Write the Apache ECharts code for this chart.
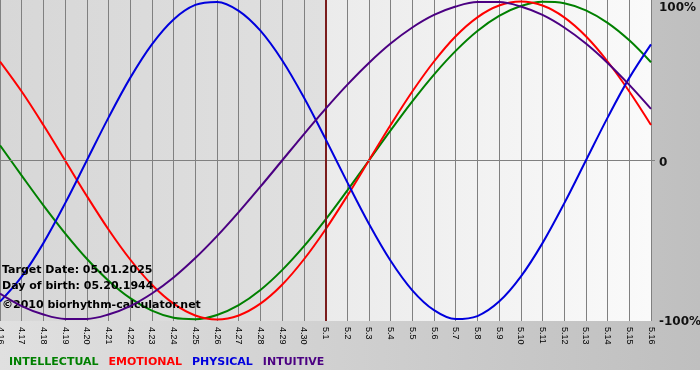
<!DOCTYPE html>
<html>
<head>
<meta charset="utf-8">
<script src="https://cdn.jsdelivr.net/npm/echarts@6/dist/echarts.min.js"></script>
<style>
html,body{margin:0;padding:0;background:#ffffff;}
#chart{width:700px;height:380px;}
</style>
</head>
<body>
<div id="chart"></div>
<script>
const dates = ['4.16','4.17','4.18','4.19','4.20','4.21','4.22','4.23','4.24','4.25','4.26','4.27','4.28','4.29','4.30',
  '5.1','5.2','5.3','5.4','5.5','5.6','5.7','5.8','5.9','5.10','5.11','5.12','5.13','5.14','5.15','5.16'];
const targetDay = '5.1';
const intellectual = [9.5,-9.5,-28.2,-45.8,-61.8,-75.6,-86.6,-94.5,-99.0,-99.9,-97.2,-91.0,-81.5,-69.0,-54.1,-37.2,-18.9,0,18.9,37.2,54.1,69.0,81.5,91.0,97.2,99.9,99.0,94.5,86.6,75.6,61.8];
const emotional = [62.3,43.4,22.3,0,-22.3,-43.4,-62.3,-78.2,-90.1,-97.5,-100,-97.5,-90.1,-78.2,-62.3,-43.4,-22.3,0,22.3,43.4,62.3,78.2,90.1,97.5,100,97.5,90.1,78.2,62.3,43.4,22.3];
const physical = [-88.8,-73.1,-52.0,-27.0,0,27.0,52.0,73.1,88.8,97.9,99.8,94.2,81.7,63.1,39.8,13.6,-13.6,-39.8,-63.1,-81.7,-94.2,-99.8,-97.9,-88.8,-73.1,-52.0,-27.0,0,27.0,52.0,73.1];
const intuitive = [-83.7,-91.6,-96.9,-99.7,-99.7,-96.9,-91.6,-83.7,-73.6,-61.4,-47.6,-32.5,-16.5,0,16.5,32.5,47.6,61.4,73.6,83.7,91.6,96.9,99.7,99.7,96.9,91.6,83.7,73.6,61.4,47.6,32.5];
const yTicks = [-100, 0, 100];
const infoLines = ['Target Date: 05.01.2025', 'Day of birth: 05.20.1944', '\u00A92010 biorhythm-calculator.net'];

const seriesDefs = [
  {name:'INTELLECTUAL', data:intellectual, color:'#008000'},
  {name:'EMOTIONAL', data:emotional, color:'#ff0000'},
  {name:'PHYSICAL', data:physical, color:'#0000dd'},
  {name:'INTUITIVE', data:intuitive, color:'#4b0082'}
];

const FONT = 'DejaVu Sans';
const chart = echarts.init(document.getElementById('chart'), null, {renderer:'canvas'});

const series = seriesDefs.map((s, i) => {
  const o = {
    name: s.name, type: 'line', data: s.data, smooth: 0.35, symbol: 'none',
    lineStyle: {color: s.color, width: 2}, itemStyle: {color: s.color},
    emphasis: {disabled: true}, z: 3 + i
  };
  if (i === 0) {
    o.markLine = {
      silent: true, symbol: 'none', animation: false,
      label: {show: false},
      data: [
        {yAxis: 0, lineStyle: {color: '#808080', width: 1, type: 'solid'}},
        {xAxis: targetDay, lineStyle: {color: '#7a1c1c', width: 2, type: 'solid'}}
      ]
    };
  }
  return o;
});

chart.setOption({
  animation: false,
  graphic: [{
    type: 'rect', z: -100, silent: true,
    shape: {x: 0, y: 0, width: 700, height: 370},
    style: {fill: new echarts.graphic.LinearGradient(0, 0, 1, 0, [
      {offset: 0, color: '#e0e0e0'}, {offset: 1, color: '#bfbfbf'}])}
  }],
  title: infoLines.map((t, i) => ({
    text: t, left: 2, top: [265, 281, 300][i], padding: 0,
    textStyle: {fontSize: 11, fontWeight: 'bold', color: '#000', fontFamily: FONT}
  })),
  legend: {
    left: -1, top: 352, icon: 'none', itemWidth: 0, itemHeight: 10, itemGap: 5,
    selectedMode: false,
    textStyle: {fontSize: 11, fontWeight: 'bold', fontFamily: FONT},
    data: seriesDefs.map(s => ({name: s.name, textStyle: {color: s.color}}))
  },
  grid: {
    left: 0, top: 0, right: 49, bottom: 59, show: true, borderWidth: 0,
    outerBoundsMode: 'none', containLabel: false,
    backgroundColor: new echarts.graphic.LinearGradient(0, 0, 1, 0, [
      {offset: 0, color: '#d7d7d7'}, {offset: 0.5, color: '#e0e0e0'},
      {offset: 0.5, color: '#ebebeb'}, {offset: 1, color: '#fafafa'}])
  },
  xAxis: {
    type: 'category', data: dates, boundaryGap: false,
    axisLine: {show: true, lineStyle: {color: '#808080', width: 1}},
    axisTick: {show: true, interval: 0, length: 5, lineStyle: {color: '#808080'}},
    axisLabel: {interval: 0, rotate: -90, margin: 6, fontSize: 9, color: '#000', fontFamily: 'Liberation Sans'},
    splitLine: {show: true, interval: 0, lineStyle: {color: '#808080', width: 1}}
  },
  yAxis: {
    type: 'value', position: 'right', min: -101, max: 101,
    splitLine: {show: false}, axisLine: {show: false},
    axisTick: {show: true, customValues: [0], length: 4, lineStyle: {color: '#808080'}},
    axisLabel: {
      customValues: yTicks, margin: 8, fontSize: 12, fontWeight: 'bold', color: '#111', fontFamily: FONT,
      formatter: v => v === 100 ? '{t|100%}' : (v === 0 ? '{z|0}' : '{b|-100%}'),
      rich: {
        t: {padding: [12, 0, 0, 0], fontSize: 12, fontWeight: 'bold', color: '#111', fontFamily: FONT},
        z: {padding: [5, 0, 0, 0], fontSize: 12, fontWeight: 'bold', color: '#111', fontFamily: FONT},
        b: {padding: [4, 0, 0, 0], fontSize: 12, fontWeight: 'bold', color: '#111', fontFamily: FONT}
      }
    }
  },
  series: series
});
</script>
</body>
</html>
